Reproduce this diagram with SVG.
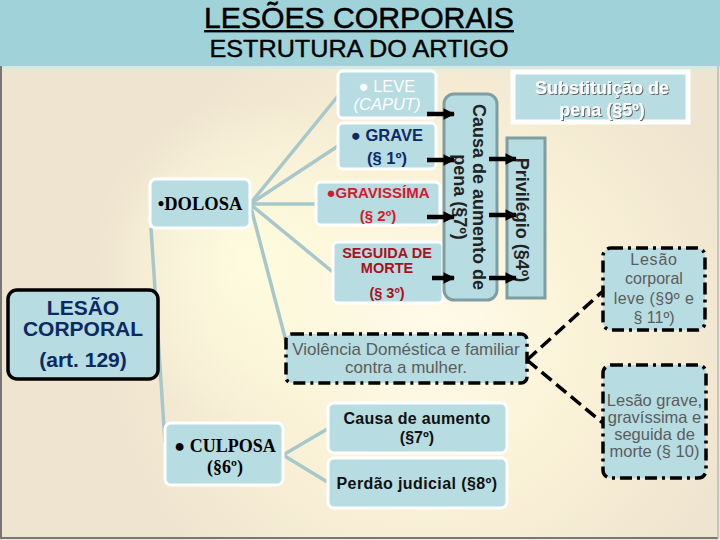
<svg xmlns="http://www.w3.org/2000/svg" width="720" height="540" viewBox="0 0 720 540">
<defs>
<radialGradient id="glow" cx="430" cy="330" r="330" gradientUnits="userSpaceOnUse">
<stop offset="0" stop-color="#fffbea"/>
<stop offset="0.45" stop-color="#fbf3d8"/>
<stop offset="1" stop-color="#efe4cf"/>
</radialGradient>
<radialGradient id="glow2" cx="250" cy="260" r="160" gradientUnits="userSpaceOnUse">
<stop offset="0" stop-color="#fffde0" stop-opacity="0.9"/>
<stop offset="1" stop-color="#fffde0" stop-opacity="0"/>
</radialGradient>
<marker id="ah" viewBox="0 0 10 10" refX="9" refY="5" markerWidth="2.6" markerHeight="3.4" orient="auto" markerUnits="strokeWidth">
<path d="M0,0 L10,5 L0,10 z" fill="#000"/>
</marker>
<filter id="sh" x="-10%" y="-20%" width="130%" height="150%">
<feDropShadow dx="1" dy="1" stdDeviation="0.6" flood-color="#555" flood-opacity="0.9"/>
</filter>
</defs>
<style>
.bx{fill:#b7dce2;stroke:#ffffff;stroke-width:3}
.dd{fill:#b7dce2;stroke:#000;stroke-width:3.5;stroke-dasharray:12,5,3,5}
.fan{stroke:#a8c7cb;stroke-width:3.5;fill:none}
.dash{stroke:#000;stroke-width:3.5;stroke-dasharray:13,6;fill:none}
.arr{stroke:#000;stroke-width:4.5;marker-end:url(#ah)}
.s{font-family:"Liberation Sans",Arial,sans-serif}
.t{font-family:"Liberation Serif","Times New Roman",serif;font-weight:bold}
.c{text-anchor:middle}
.gr{fill:#5c5c5c}
</style>
<rect x="0" y="0" width="720" height="540" fill="url(#glow)"/>
<rect x="0" y="0" width="720" height="540" fill="url(#glow2)"/>
<rect x="0" y="0" width="720" height="66" fill="#a0d3d9"/>
<rect x="0" y="66" width="720" height="3" fill="#d6e9e2"/>
<line x1="1" y1="66" x2="1" y2="538" stroke="#777" stroke-width="2"/>
<line x1="0" y1="538" x2="718" y2="538" stroke="#777" stroke-width="2"/>
<line x1="718" y1="66" x2="718" y2="538" stroke="#bbb" stroke-width="1.5"/>
<g id="title">
<text x="359" y="28" class="s c" font-size="29" textLength="310" lengthAdjust="spacingAndGlyphs" fill="#000" stroke="#000" stroke-width="0.5">LESÕES CORPORAIS</text>
<rect x="204" y="30" width="310" height="2.4" fill="#000"/>
<text x="359" y="57" class="s c" font-size="23" textLength="299" lengthAdjust="spacingAndGlyphs" fill="#000" stroke="#000" stroke-width="0.4">ESTRUTURA DO ARTIGO</text>
</g>
<g id="connectors">
<line class="fan" x1="250" y1="204" x2="338" y2="96"/>
<line class="fan" x1="250" y1="204" x2="338" y2="146"/>
<line class="fan" x1="250" y1="204" x2="317" y2="204"/>
<line class="fan" x1="250" y1="204" x2="334" y2="273"/>
<line class="fan" x1="250" y1="204" x2="287" y2="345"/>
<line class="fan" x1="151" y1="228" x2="165" y2="443"/>
<line class="fan" x1="283" y1="455" x2="329" y2="428"/>
<line class="fan" x1="283" y1="455" x2="329" y2="483"/>
<line class="dash" x1="527" y1="360" x2="603" y2="291"/>
<line class="dash" x1="527" y1="360" x2="604" y2="424"/>
</g>
<g id="lesao">
<rect x="8" y="290" width="150" height="89" rx="9" fill="#b7dce2" stroke="#000" stroke-width="3.5"/>
<text class="s c" x="83" y="315" font-size="21" font-weight="bold" fill="#0c2a62">LESÃO</text>
<text class="s c" x="83" y="336" font-size="21" font-weight="bold" fill="#0c2a62">CORPORAL</text>
<text class="s c" x="83" y="367" font-size="21" font-weight="bold" fill="#0c2a62">(art. 129)</text>
</g>
<g id="dolosa">
<rect class="bx" x="150" y="179" width="100" height="49" rx="6"/>
<text class="t c" x="200" y="210" font-size="18.5" fill="#000">•DOLOSA</text>
</g>
<g id="culposa">
<rect class="bx" x="165" y="423" width="118" height="62" rx="6"/>
<text class="t c" x="225" y="452" font-size="18" fill="#000">● CULPOSA</text>
<text class="t c" x="225" y="473" font-size="18" fill="#000">(§6º)</text>
</g>
<g id="leve">
<rect class="bx" x="338" y="71" width="98" height="47" rx="5"/>
<text class="s c" x="387" y="92" font-size="16.5" fill="#ffffff">● LEVE</text>
<text class="s c" x="387" y="110" font-size="16.5" font-style="italic" fill="#ffffff">(CAPUT)</text>
</g>
<g id="grave">
<rect class="bx" x="338" y="123" width="98" height="46" rx="5"/>
<text class="s c" x="387" y="141" font-size="16.5" font-weight="bold" fill="#0e2a66">● GRAVE</text>
<text class="s c" x="387" y="164" font-size="16.5" font-weight="bold" fill="#0e2a66">(§ 1º)</text>
</g>
<g id="gravissima">
<rect class="bx" x="316" y="182" width="124" height="43" rx="5"/>
<text class="s c" x="378" y="198" font-size="15" font-weight="bold" fill="#d21b2c">●GRAVISSÍMA</text>
<text class="s c" x="378" y="221" font-size="15" font-weight="bold" fill="#d21b2c">(§ 2º)</text>
</g>
<g id="seguida">
<rect class="bx" x="333" y="242" width="110" height="61" rx="5"/>
<text class="s c" x="387" y="258" font-size="14.5" font-weight="bold" fill="#a8121f">SEGUIDA DE</text>
<text class="s c" x="387" y="273" font-size="14.5" font-weight="bold" fill="#a8121f">MORTE</text>
<text class="s c" x="387" y="298" font-size="14.5" font-weight="bold" fill="#a8121f">(§ 3º)</text>
</g>
<g id="causa7">
<rect x="444" y="94" width="53" height="206" rx="10" fill="#b7dce2" stroke="#7e9ea3" stroke-width="3"/>
<text class="s c" transform="translate(473,197) rotate(90)" font-size="18" font-weight="bold" fill="#222">Causa de aumento de</text>
<text class="s c" transform="translate(454,197) rotate(90)" font-size="18" font-weight="bold" fill="#222">pena (§7º)</text>
</g>
<g id="privilegio">
<rect x="507" y="138" width="38" height="160" fill="#b7dce2" stroke="#7e9ea3" stroke-width="3"/>
<text class="s c" transform="translate(516,220) rotate(90)" font-size="18" font-weight="bold" fill="#222">Privilégio (§4º)</text>
</g>
<g id="substituicao">
<rect x="513" y="72" width="175" height="50" fill="#b7dce2" stroke="#ffffff" stroke-width="5"/>
<text class="s c" x="602" y="94" font-size="18" font-weight="bold" fill="#ffffff" filter="url(#sh)">Substituição de</text>
<text class="s c" x="602" y="116" font-size="18" font-weight="bold" fill="#ffffff" filter="url(#sh)">pena (§5º)</text>
</g>
<g id="arrows">
<line class="arr" x1="427" y1="114" x2="454" y2="114"/>
<line class="arr" x1="427" y1="160" x2="454" y2="160"/>
<line class="arr" x1="427" y1="217" x2="454" y2="217"/>
<line class="arr" x1="432" y1="278" x2="454" y2="278"/>
<line class="arr" x1="489" y1="159" x2="516" y2="159"/>
<line class="arr" x1="489" y1="215" x2="516" y2="215"/>
<line class="arr" x1="489" y1="278" x2="516" y2="278"/>
</g>
<g id="violencia">
<rect class="dd" x="286" y="334" width="241" height="49" rx="6"/>
<text class="s c gr" x="406" y="355" font-size="17">Violência Doméstica e familiar</text>
<text class="s c gr" x="406" y="373" font-size="17">contra a mulher.</text>
</g>
<g id="leve9">
<rect class="dd" x="603" y="248" width="102" height="82" rx="8"/>
<text class="s c gr" x="654" y="265" font-size="16" letter-spacing="0.8">Lesão</text>
<text class="s c gr" x="654" y="284" font-size="16">corporal</text>
<text class="s c gr" x="654" y="304" font-size="16" letter-spacing="0.4">leve (§9º e</text>
<text class="s c gr" x="654" y="323" font-size="16">§ 11º)</text>
</g>
<g id="grave10">
<rect class="dd" x="603" y="365" width="103" height="113" rx="8"/>
<text class="s c gr" x="654.5" y="406" font-size="16.5">Lesão grave,</text>
<text class="s c gr" x="654.5" y="423" font-size="16.5">gravíssima e</text>
<text class="s c gr" x="654.5" y="440" font-size="16.5">seguida de</text>
<text class="s c gr" x="654.5" y="457" font-size="16.5">morte (§ 10)</text>
</g>
<g id="causa-culposa">
<rect class="bx" x="328" y="403" width="179" height="50" rx="6"/>
<text class="s c" x="417" y="424" font-size="16" font-weight="bold" fill="#111" letter-spacing="0.3">Causa de aumento</text>
<text class="s c" x="417" y="443" font-size="16" font-weight="bold" fill="#111">(§7º)</text>
</g>
<g id="perdao">
<rect class="bx" x="328" y="458" width="179" height="50" rx="6"/>
<text class="s c" x="417" y="489" font-size="16" font-weight="bold" fill="#111" letter-spacing="0.4">Perdão judicial (§8º)</text>
</g>
</svg>
